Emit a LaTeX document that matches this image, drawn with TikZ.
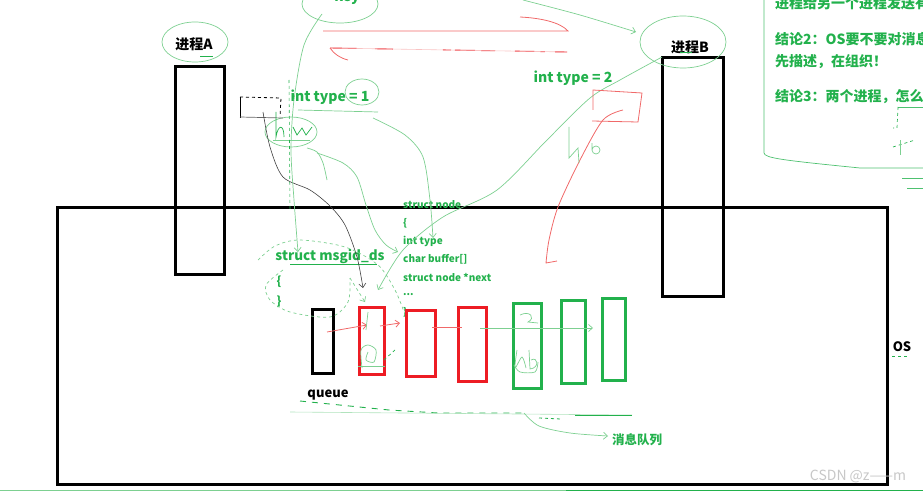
\documentclass[tikz,border=0pt]{standalone}
\usepackage{fontspec}
\setmainfont{Noto Sans CJK SC}
\usetikzlibrary{arrows.meta}
\definecolor{pgreen}{RGB}{34,177,76}
\definecolor{lgreen}{RGB}{125,208,145}
\definecolor{pred}{RGB}{237,28,36}
\definecolor{lred}{RGB}{240,105,105}
\tikzset{
  procbox/.style={draw=black, line width=3pt, inner sep=0pt, anchor=north west},
  qbox/.style={draw=#1, line width=2.6pt, inner sep=0pt, anchor=north west},
  lbl/.style={inner sep=0pt, font=\bfseries\fontsize{14}{16}\selectfont},
  glbl/.style={lbl, text=pgreen},
  small/.style={inner sep=0pt, anchor=west, text=pgreen, font=\bfseries\fontsize{10}{11}\selectfont},
  sk/.style={draw=lgreen, line width=0.7pt},
  skd/.style={draw=pgreen, line width=0.7pt, dashed},
  skr/.style={draw=lred, line width=0.8pt},
  barb/.style={-{Straight Barb[length=4pt,width=7pt]}},
}
\begin{document}
\begin{tikzpicture}[x=1pt,y=-1pt]
\useasboundingbox (0,0) rectangle (923,492);
\clip (0,0) rectangle (923,492);

% ---------- main boxes ----------
\node[procbox, minimum width=830pt, minimum height=277pt] (os) at (56,206) {};
\node[procbox, minimum width=49pt, minimum height=208pt] (pA) at (174,65) {};
\node[procbox, minimum width=61pt, minimum height=239pt] (pB) at (661,56) {};

% ---------- labels ----------
\node[lbl] (tA) at (194,44) {进程A};
\node[lbl] (tB) at (690,47) {进程B};
\node[lbl, anchor=base, text=pgreen] (key) at (347,2) {key};
\node[glbl] (t1) at (330,97) {int type = 1};
\node[glbl] (t2) at (573,78) {int type = 2};
\node[lbl, font=\bfseries\fontsize{13}{15}\selectfont] (os-l) at (902,347) {OS};
\node[lbl, font=\bfseries\fontsize{13}{15}\selectfont] (queue) at (328,395) {queue};
\node[glbl, font=\bfseries\fontsize{12.5}{14}\selectfont] (mq) at (637,440) {消息队列};

% right notes (cut off by the frame, as in the reference)
\node[glbl, anchor=west] (n1) at (775,3) {进程给另一个进程发送有};
\node[glbl, anchor=west] (n2) at (775,39) {结论2：OS要不要对消息};
\node[glbl, anchor=west] (n3) at (775,62) {先描述，在组织！};
\node[glbl, anchor=west] (n4) at (775,97) {结论3：两个进程，怎么做};

% struct msgid_ds
\node[glbl, font=\bfseries\fontsize{13.5}{15}\selectfont] (msq) at (330,257) {struct msgid\_ds};
\node[glbl, font=\bfseries\fontsize{12}{14}\selectfont] (ob) at (279,282) {\{};
\node[glbl, font=\bfseries\fontsize{12}{14}\selectfont] (cb) at (279,302) {\}};
\draw[pgreen, line width=1pt] (290,264) -- (377,264);

% struct node
\node[small] (s0) at (403,205) {struct node};
\node[small] (s1) at (403,223) {\{};
\node[small] (s2) at (403,241) {int type};
\node[small] (s3) at (403,259) {char buffer[]};
\node[small] (s4) at (403,277) {struct node *next};
\node[small] (s5) at (403,295) {...};
\node[small] (s6) at (403,312) {\}};

% ---------- queue boxes ----------
\node[qbox=black, minimum width=21pt, minimum height=64pt] (q0) at (311,308) {};
\node[qbox=pred, minimum width=25pt, minimum height=67pt] (q1) at (358,306) {};
\node[qbox=pred, minimum width=29pt, minimum height=66pt] (q2) at (405,309) {};
\node[qbox=pred, minimum width=28pt, minimum height=74pt] (q3) at (457,306) {};
\node[qbox=pgreen, minimum width=28pt, minimum height=85pt] (q4) at (512,302) {};
\node[qbox=pgreen, minimum width=24pt, minimum height=83pt] (q5) at (560,299) {};
\node[qbox=pgreen, minimum width=23pt, minimum height=82pt] (q6) at (601,297) {};

% queue links
\draw[skr, barb] (327,332) -- (367,325);
\draw[skr, barb] (380,326) -- (400,323);
\draw[skr] (432,327) -- (462,327);
\draw[sk, barb] (480,328) -- (593,328);

% scribbles inside boxes
\draw[sk] (368,312) -- (366,330);
\draw[sk] plot[smooth] coordinates {(362,368) (361,350) (368,345) (376,350) (374,362) (366,360) (368,352)};
\draw[sk] (358,366) -- (385,366);
\draw[skd] (384,360) -- (395,350);
\draw[sk] (520,315) .. controls (530,310) and (536,318) .. (528,322) -- (538,323);
\draw[sk] plot[smooth] coordinates {(517,350) (515,368) (522,357) (526,368)};
\draw[sk] (529,350) -- (530,369) .. controls (540,368) and (538,356) .. (531,360);
\draw[sk] plot[smooth] coordinates {(514,365) (520,372) (535,372) (538,362)};

% ---------- hand-drawn annotations ----------
\draw[sk] (195,42) ellipse [x radius=33pt, y radius=20pt];
\draw[pgreen, line width=1pt] (200,57) -- (213,57);
\draw[sk] (683,42) ellipse [x radius=43pt, y radius=26pt];
\draw[pgreen, line width=1pt] (680,53) -- (692,53);
\draw[sk] (340,4) ellipse [x radius=38pt, y radius=19pt];
\draw[sk] (362,92) ellipse [x radius=17pt, y radius=13pt];
\draw[sk] (298,110) -- (378,112);
\draw[sk] (291,132) ellipse [x radius=26pt, y radius=15pt];

% small black dashed box and black curve
\draw[black, line width=0.8pt] (240,118) -- (240,97);
\draw[black, line width=0.8pt, dashed] (240,97) -- (281,98) -- (280,117);
\draw[black!60, line width=0.7pt] (240,117) -- (283,118);
\draw[black!75, line width=0.6pt, barb] plot[smooth] coordinates {(263,112) (270,147) (283,177) (310,190) (330,206) (345,225) (357,257) (363,288)};

% hw scribble
\draw[pgreen, line width=0.7pt] (276,112) -- (276,137) .. controls (278,124) and (284,124) .. (284,137);
\draw[pgreen, line width=0.7pt] (293,127) -- (297,135) -- (302,128) -- (306,135) -- (312,127);
\draw[sk] (273,140) -- (310,140);

% key curve down to struct msgid_ds
\draw[sk, barb] plot[smooth] coordinates {(322,14) (304,45) (294,100) (291,150) (294,200) (298,252)};
\draw[pgreen, line width=0.6pt, dashed] (289,80) -- (290,210);
% curves from hw to struct node
\draw[sk] plot[smooth] coordinates {(307,148) (317,152) (323,163) (327,180)};
\draw[sk, barb] plot[smooth] coordinates {(317,153) (343,163) (357,177) (366,205) (375,230) (386,245) (398,252)};
% int type = 1 to int type
\draw[sk, barb] plot[smooth] coordinates {(373,118) (405,135) (423,157) (430,200) (433,238)};
% brace enclosure
\draw[skd, lgreen] plot[smooth] coordinates {(258,260) (275,246) (300,240) (345,247) (378,265) (395,290) (404,312)};
\draw[skd, lgreen] plot[smooth] coordinates {(283,270) (266,285) (270,300) (290,312) (330,317) (348,302) (350,278)};
\draw[skd, lgreen, barb] (350,278) -- (365,302);

% top arrows
\draw[sk, barb] plot[smooth] coordinates {(523,0) (580,15) (636,32)};
\draw[sk, barb] plot[smooth] coordinates {(662,57) (620,80) (590,98) (547,140) (497,190) (443,217) (403,250) (378,290)};

% red strokes on top
\draw[skr] (323,31) -- (568,31) .. controls (560,22) and (540,18) .. (520,17);
\draw[pred, line width=0.9pt, dash pattern=on 30pt off 15pt on 18pt off 50pt on 8pt off 4pt on 40pt off 20pt on 30pt off 10pt] (330,48) -- (567,52);
\draw[lred!40, line width=0.6pt] (330,48) -- (567,52);
\draw[skr] (330,48) .. controls (334,54) and (340,58) .. (348,60);

% red box near int type = 2 and red curve
\draw[skr] (593,110) -- (593,90) -- (642,93) -- (638,122) -- (592,121);
\draw[skr] plot[smooth] coordinates {(623,110) (603,120) (580,160) (558,207) (549,240) (546,263)} -- (557,261);
% hb scribble
\draw[sk] (569,127) -- (569,158) -- (578,148) -- (579,163);
\draw[sk] (592,143) -- (592,150) arc[start angle=180, end angle=540, radius=4pt];

% underline and arrow to 消息队列
\draw[pgreen, line width=0.9pt, dash pattern=on 6pt off 6pt] (300,401) -- (389,410) -- (438,413) -- (522,413);
\draw[lgreen!60, line width=0.6pt] (290,412) -- (632,415);
\draw[pgreen, line width=0.8pt] (575,415) -- (632,415);
\draw[pgreen, line width=0.8pt, dashed] (539,418) -- (561,419);
\draw[sk, barb] plot[smooth] coordinates {(524,413) (539,426) (570,433) (608,436)};
\draw[pgreen, line width=0.8pt, dashed] (892,356) -- (910,356);

% right notes frame
\draw[sk, draw=pgreen!80] (764,0) -- (764,153) .. controls (765,158) and (780,160) .. (860,168) -- (923,168);
\draw[sk, draw=pgreen!80] (898,107) -- (923,107);
\draw[skd] (898,107) -- (897,128) -- (893,128);
\draw[skd] (893,147) -- (915,140);
\draw[sk] (900,140) -- (900,155);
\draw[sk, draw=pgreen!80] (902,178) -- (923,178);
\draw[sk, draw=pgreen!80] (907,188) -- (923,188);

% bottom line and watermark
\draw[lgreen, line width=1.8pt] (0,490.5) -- (566,490.5);
\draw[pgreen, line width=1.8pt] (566,490.5) -- (923,490.5);
\node[inner sep=0pt, text=black!22, font=\fontsize{14}{16}\selectfont] (wm) at (858,476) {CSDN @z——m};
\end{tikzpicture}
\end{document}
